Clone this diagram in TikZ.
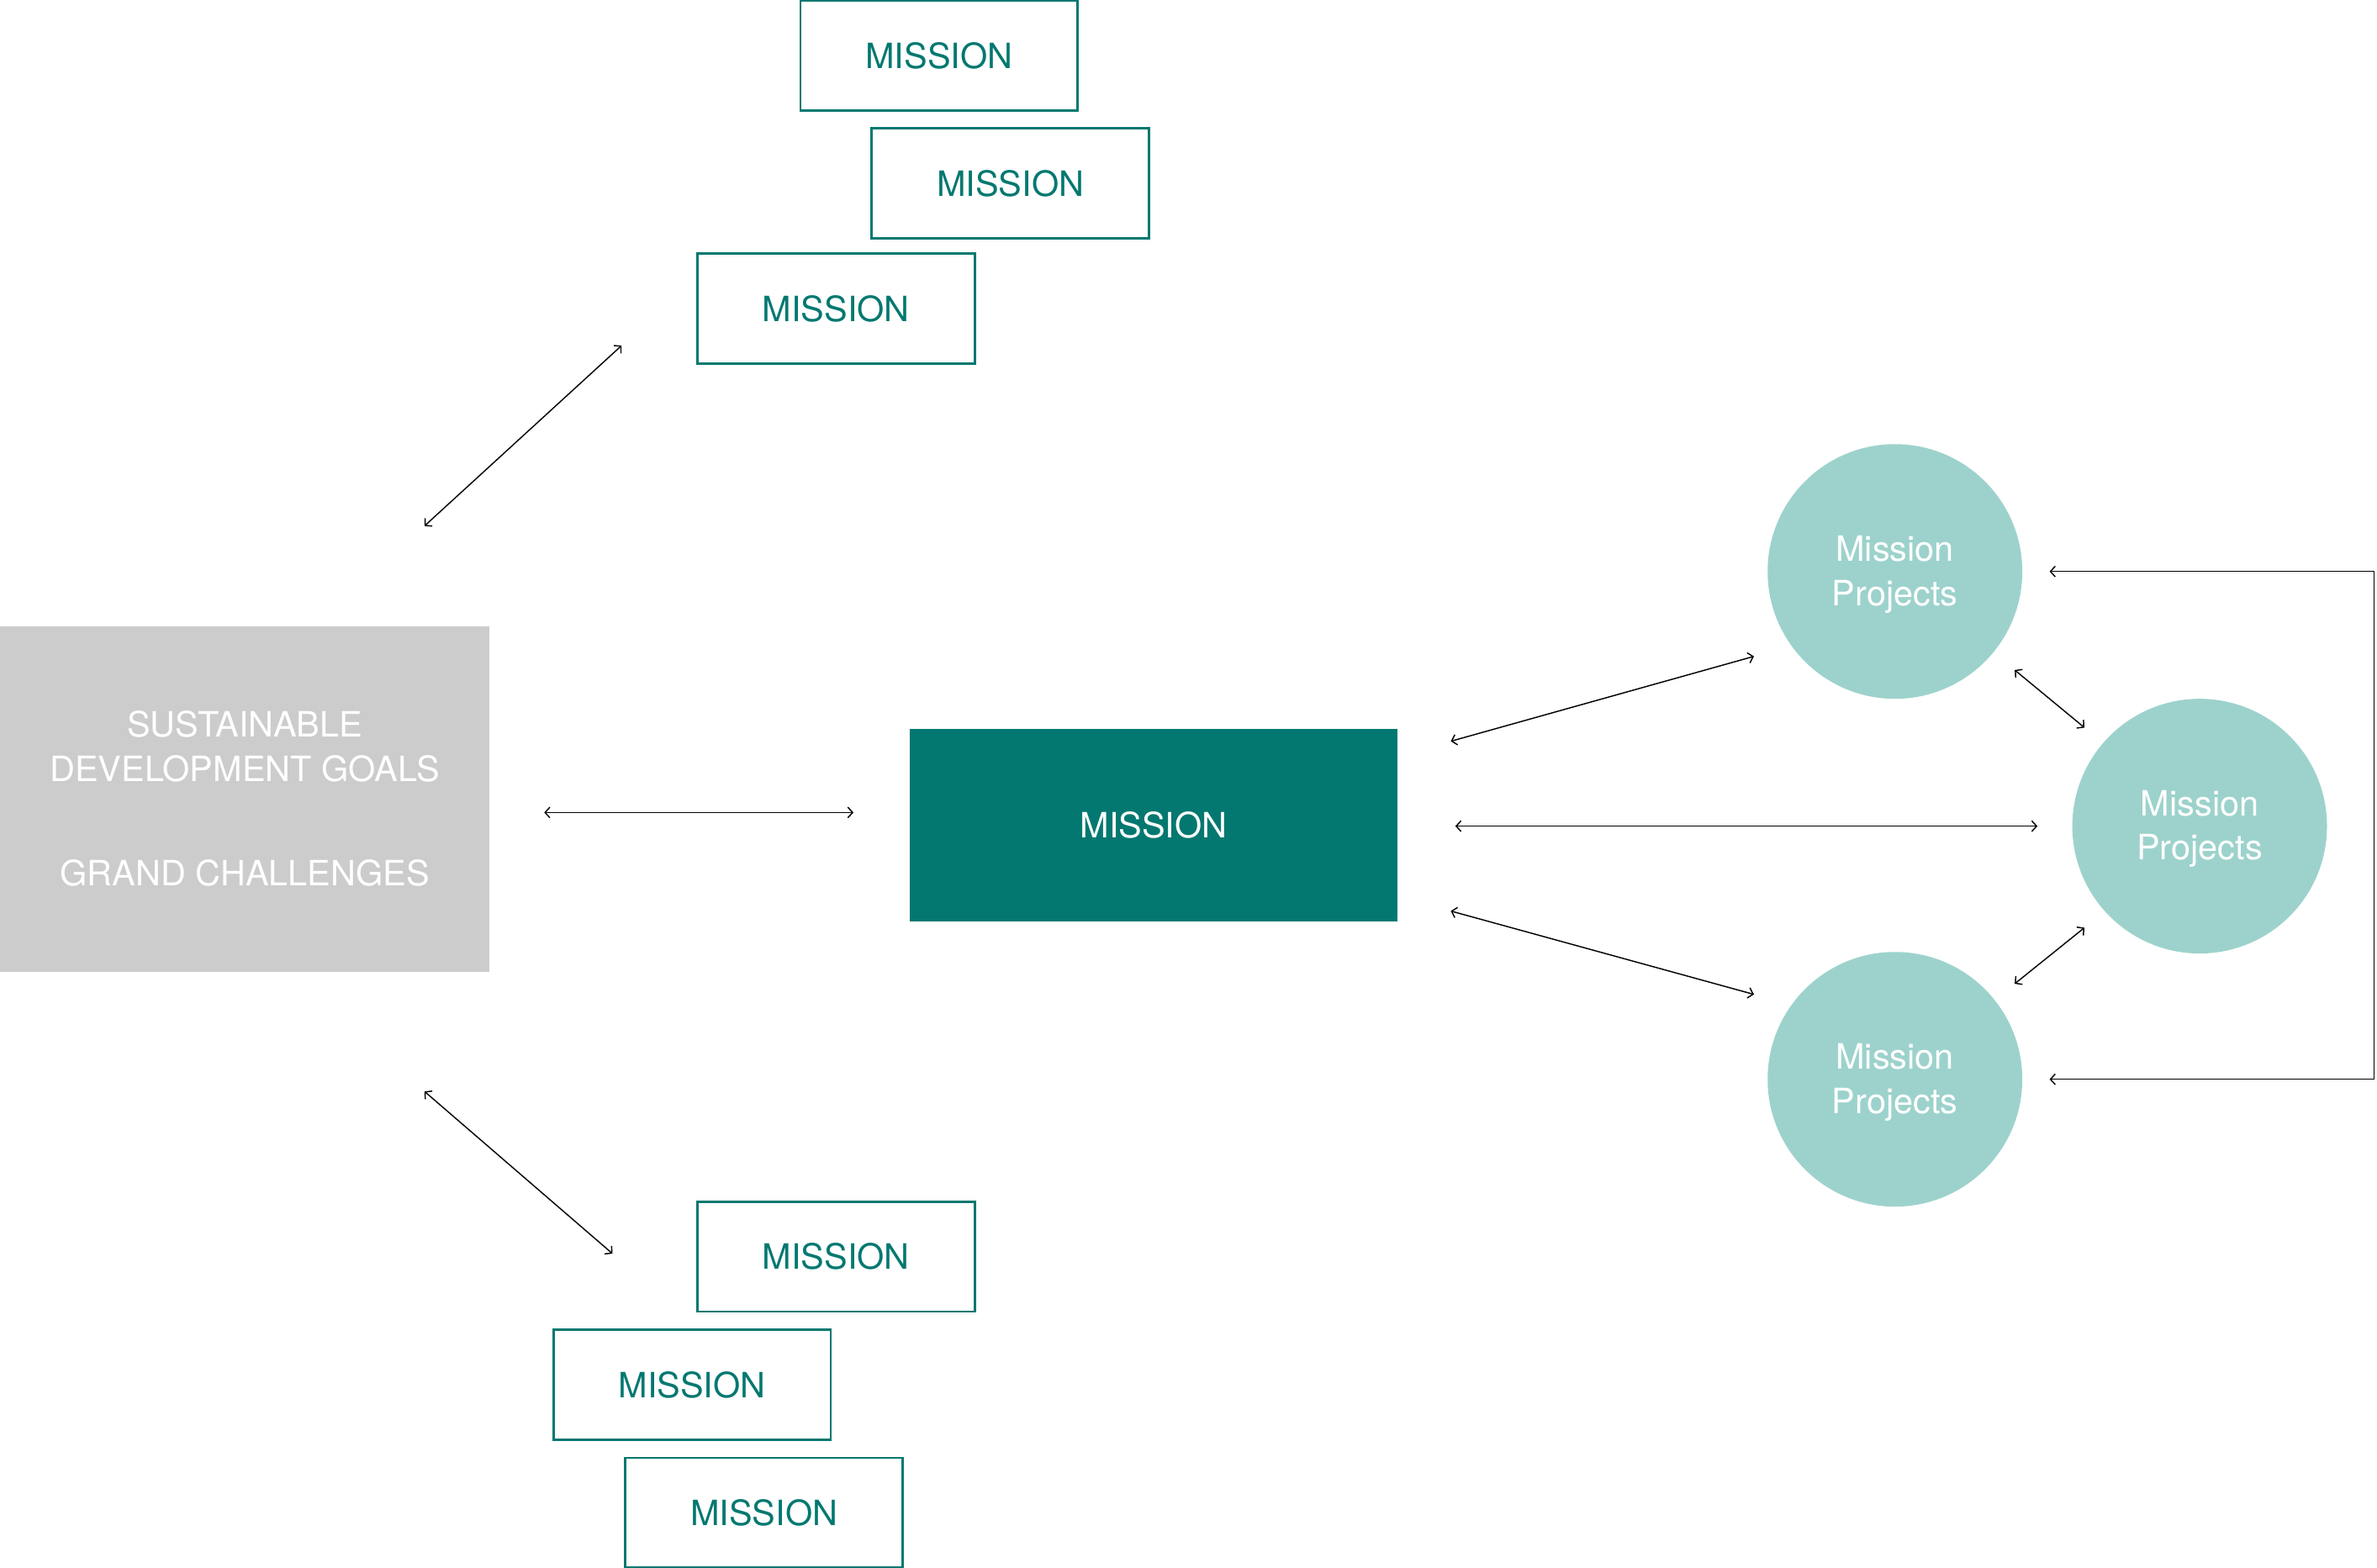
\documentclass[tikz,border=0pt]{standalone}
\usepackage{fontspec}
\setmainfont{TeX Gyre Heros}
\usetikzlibrary{arrows.meta}
\definecolor{tealdark}{HTML}{037870}
\definecolor{mint}{HTML}{9DD2CC}
\definecolor{greybox}{HTML}{CCCCCC}
\begin{document}
\begin{tikzpicture}[x=1pt,y=-1pt,
  font=\fontsize{23}{29}\selectfont,
  outbox/.style={draw=tealdark, line width=1.6pt, minimum width=183pt, minimum height=72.5pt, inner sep=0pt, text=tealdark},
  mainbox/.style={fill=tealdark, minimum width=322pt, minimum height=127pt, inner sep=0pt, text=white},
  goalbox/.style={fill=greybox, minimum width=323pt, minimum height=228pt, inner sep=0pt, text=white, align=center},
  proj/.style={circle, fill=mint, minimum size=168pt, inner sep=0pt, text=white, align=center},
  projtext/.style={text=white, align=center},
  link/.style={line width=0.8pt, {Straight Barb[length=3.2pt,width=7pt]}-{Straight Barb[length=3.2pt,width=7pt]}},
]
\useasboundingbox (0,0) rectangle (1568,1034.4);

% mission boxes
\node[outbox] (m1) at (619.5,36.8) {MISSION};
\node[outbox] (m2) at (666.5,121) {MISSION};
\node[outbox] (m3) at (551.5,203.5) {MISSION};
\node[outbox] (m4) at (551.5,829) {MISSION};
\node[outbox] (m5) at (456.5,913.5) {MISSION};
\node[outbox] (m6) at (504,998) {MISSION};

\node[goalbox] (sdg) at (161.5,527) {SUSTAINABLE\\DEVELOPMENT GOALS\\[40pt]GRAND CHALLENGES};
\node[mainbox] (main) at (761,544.5) {MISSION};

\node[proj] (p1) at (1250,377) {};
\node[proj] (p2) at (1451,545) {};
\node[proj] (p3) at (1250,712) {};
\node[projtext] (p1t) at (1250,379) {Mission\\Projects};
\node[projtext] (p2t) at (1451,547) {Mission\\Projects};
\node[projtext] (p3t) at (1250,714) {Mission\\Projects};

% connector end points
\coordinate (sdgTop) at (280,347);
\coordinate (m3In) at (410,228);
\coordinate (sdgMid) at (359,536);
\coordinate (mainL) at (563,536);
\coordinate (sdgBot) at (280,720);
\coordinate (m4In) at (404,827);
\coordinate (mainTR) at (957,489);
\coordinate (p1L) at (1157,433);
\coordinate (mainR) at (960,545);
\coordinate (p2L) at (1344,545);
\coordinate (mainBR) at (957,601);
\coordinate (p3L) at (1157,656);
\coordinate (p1B) at (1329,442);
\coordinate (p2TL) at (1375,480);
\coordinate (p3T) at (1329,649);
\coordinate (p2BL) at (1375,612);
\coordinate (p1R) at (1352,377);
\coordinate (p3R) at (1352,712);
\coordinate (railx) at (1566,0);

\draw[link] (sdgTop) -- (m3In);
\draw[link] (sdgMid) -- (mainL);
\draw[link] (sdgBot) -- (m4In);
\draw[link] (mainTR) -- (p1L);
\draw[link] (mainR) -- (p2L);
\draw[link] (mainBR) -- (p3L);
\draw[link] (p1B) -- (p2TL);
\draw[link] (p3T) -- (p2BL);
\draw[link] (p1R) -- (p1R -| railx) |- (p3R);
\end{tikzpicture}
\end{document}
